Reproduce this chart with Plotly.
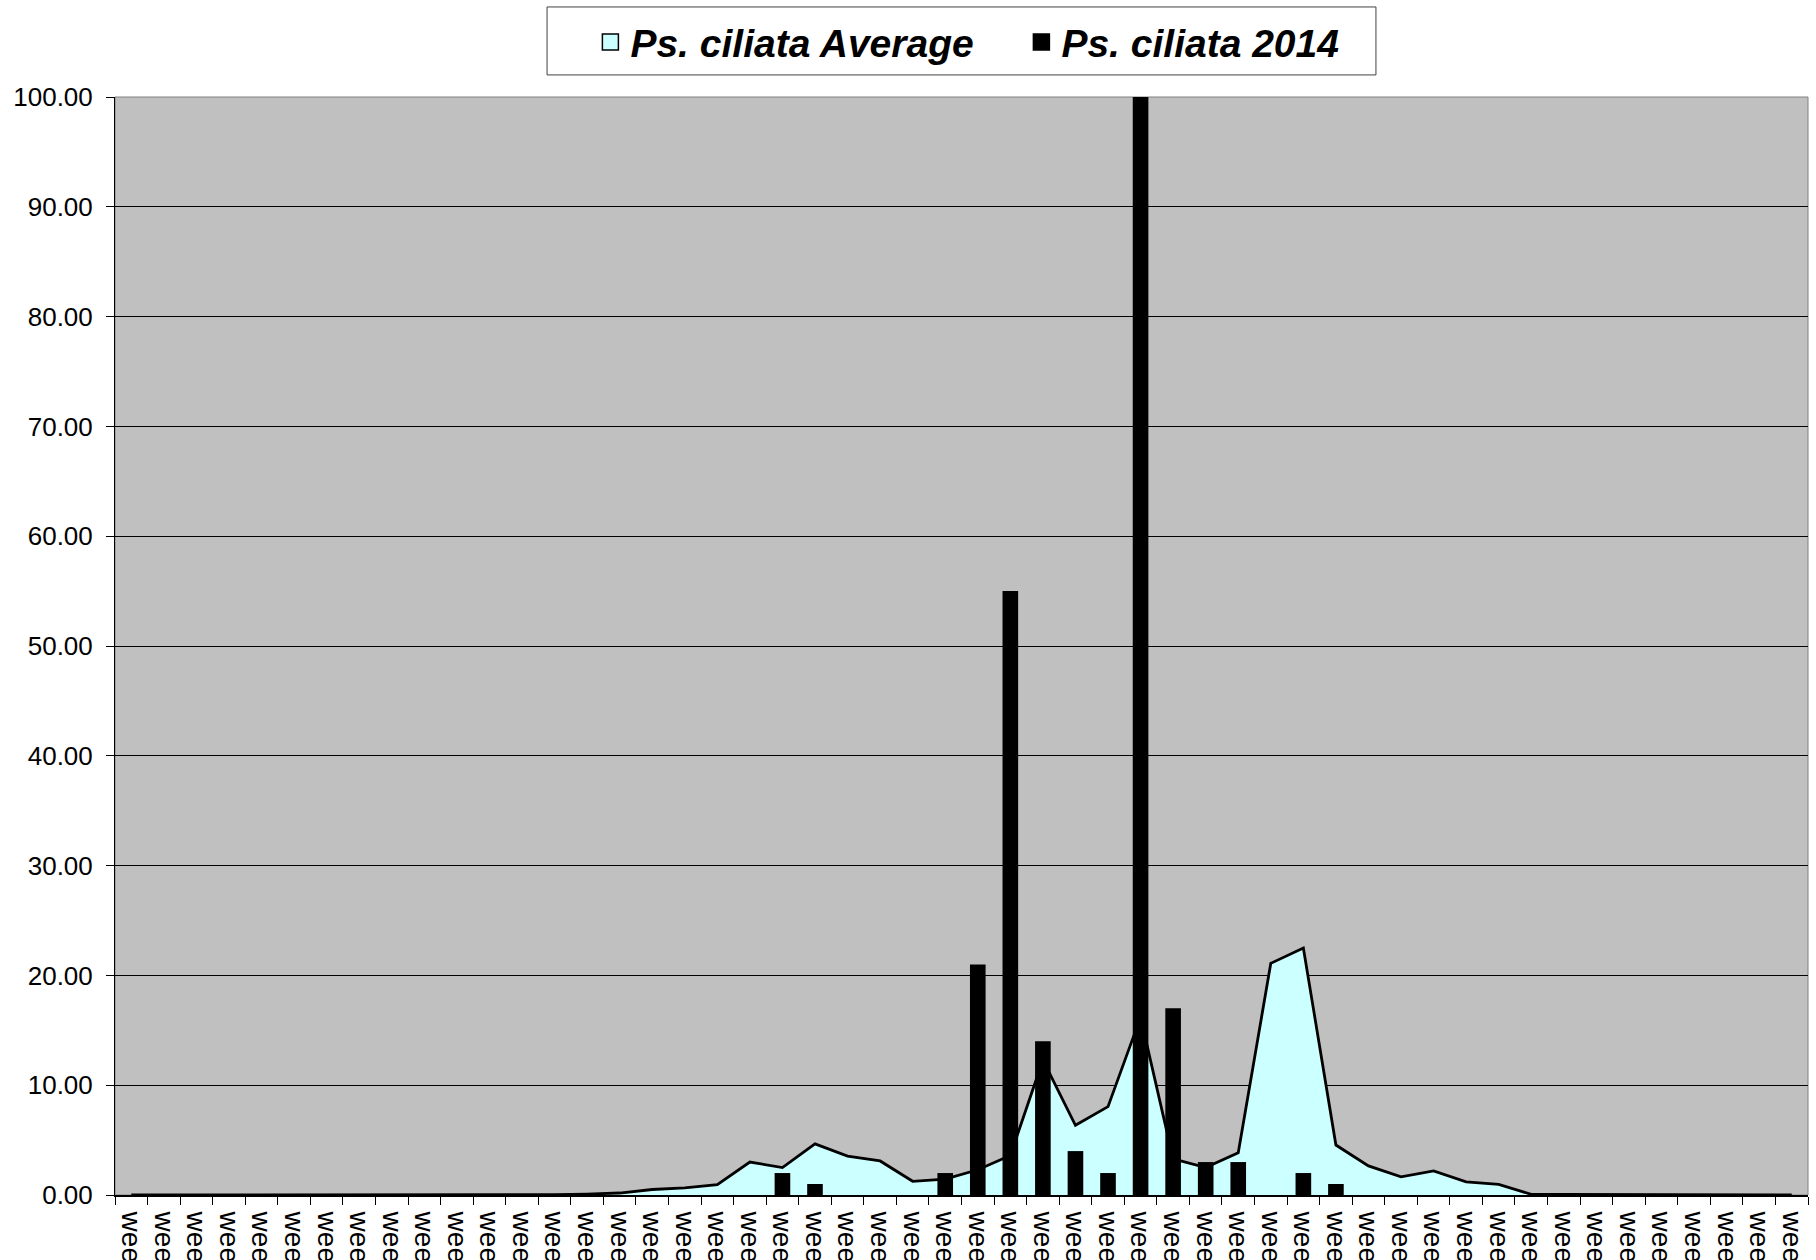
import plotly.graph_objects as go

weeks = ["week %d" % i for i in range(1, 53)]

# weekly average (area series)
avg = [0, 0, 0, 0, 0, 0, 0, 0, 0, 0, 0, 0, 0,
       0.03, 0.08, 0.18, 0.5, 0.65, 0.95, 3.0, 2.5, 4.65, 3.55, 3.1, 1.25, 1.45,
       2.3, 3.6, 12.3, 6.35, 8.05, 16.2, 3.3, 2.5, 3.85, 21.1, 22.5, 4.55, 2.65,
       1.65, 2.2, 1.2, 0.97, 0.06, 0.05, 0.04, 0.03, 0.02, 0.01, 0, 0, 0]

# 2014 counts (bars), None = no sample
y2014 = [None] * 20 + [2, 1, None, None, None, 2, 21, 55, 14, 4, 2, 100, 17, 3, 3,
                       None, 2, 1] + [None] * 14

name_avg = "Ps. ciliata Average"
name_2014 = "Ps. ciliata 2014"

fig = go.Figure()
fig.add_trace(go.Scatter(x=weeks, y=avg, mode='lines', fill='tozeroy',
                         fillcolor='#CCFFFF', line=dict(color='black', width=2.8),
                         showlegend=False, name=name_avg))
# bars go on an overlaid axis pair so they sit in front of the area
fig.add_trace(go.Bar(x=weeks, y=y2014, xaxis='x2', yaxis='y2',
                     marker=dict(color='black', line=dict(width=0)),
                     showlegend=False, name=name_2014))
# legend entries
fig.add_trace(go.Scatter(x=[None], y=[None], mode='markers', name=name_avg,
                         marker=dict(symbol='square', size=18, color='#CCFFFF',
                                     line=dict(color='black', width=1.5))))
fig.add_trace(go.Scatter(x=[None], y=[None], mode='markers', name=name_2014,
                         marker=dict(symbol='square', size=18, color='black',
                                     line=dict(color='black', width=1.5))))

fig.update_layout(
    width=1816, height=1260,
    margin=dict(l=115, r=8, t=97, b=65),
    paper_bgcolor='white', plot_bgcolor='#C0C0C0',
    bargap=0.52,
    font=dict(family='Liberation Sans, Arial, sans-serif', color='black', size=26),
    legend=dict(orientation='h', x=0.2808, xanchor='left', y=1.050, yanchor='middle',
                bgcolor='rgba(0,0,0,0)', borderwidth=0,
                font=dict(size=39, weight='bold', style='italic'),
                entrywidth=386, entrywidthmode='pixels', itemsizing='trace'),
    xaxis2=dict(type='category', overlaying='x', matches='x', visible=False),
    yaxis2=dict(overlaying='y', range=[0, 100], visible=False),
)
fig.layout.xaxis.update(type='category', tickmode='linear', tick0=0, dtick=1,
                        tickson='boundaries', ticks='outside', ticklen=8,
                        tickcolor='black', tickangle=90, showline=True, linecolor='black',
                        linewidth=2, showgrid=False, automargin=False,
                        tickfont=dict(size=28), ticklabelstandoff=9)
fig.layout.yaxis.update(range=[0, 100], dtick=10, tickformat='.2f', ticks='outside', ticklen=8,
                        tickcolor='black', showline=True, linecolor='black', linewidth=1,
                        showgrid=True, gridcolor='black', gridwidth=1, zeroline=False,
                        automargin=False, tickfont=dict(size=26), ticklabelstandoff=8)
# grey border round the plot area
fig.add_shape(type='rect', xref='paper', yref='paper', x0=0, x1=1, y0=0, y1=1,
              line=dict(color='#808080', width=1), layer='below')
# legend frame
fig.add_shape(type='rect', xref='paper', yref='paper', x0=0.2552, x1=0.7448,
              y0=1.0201, y1=1.0820, line=dict(color='#404040', width=1),
              fillcolor='white', layer='below')

fig.write_html("out.html", config={'displayModeBar': False},
               post_script="document.body.style.margin='0';")
